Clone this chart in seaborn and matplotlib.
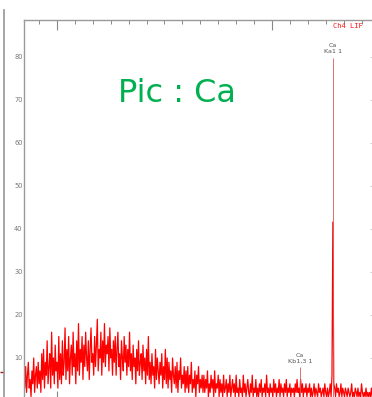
import numpy as np
import pandas as pd
import matplotlib
matplotlib.use("Agg")
import matplotlib.pyplot as plt
import seaborn as sns

# Spectrum counts, one value per channel step of 0.05 starting at 0.2
start = 0.2
step = 0.05
counts = [
    3, 8, 2, 6, 9, 3, 5, 1, 7, 4, 10, 2, 6, 8, 3, 9, 4, 7, 2, 11,
    5, 12, 3, 9, 6, 14, 4, 8, 11, 3, 16, 6, 10, 4, 13, 7, 9, 3, 15, 5,
    11, 4, 14, 6, 9, 17, 5, 12, 7, 15, 4, 10, 13, 6, 16, 8, 11, 4, 14, 7,
    18, 6, 12, 9, 15, 5, 13, 8, 16, 10, 7, 14, 5, 12, 17, 9, 11, 6, 15, 8,
    13, 19, 7, 12, 10, 16, 6, 14, 9, 18, 8, 13, 11, 15, 7, 17, 10, 12, 6, 14,
    9, 15, 6, 12, 16, 8, 11, 5, 14, 10, 7, 15, 9, 13, 6, 12, 8, 16, 7, 11,
    5, 13, 8, 10, 4, 12, 7, 14, 6, 9, 11, 5, 13, 7, 10, 4, 12, 6, 15, 5,
    9, 4, 11, 6, 8, 3, 12, 5, 10, 7, 4, 9, 6, 11, 3, 8, 5, 12, 4, 10,
    3, 9, 5, 7, 2, 10, 6, 4, 8, 3, 9, 2, 7, 5, 10, 3, 6, 4, 8, 2,
    7, 3, 8, 2, 6, 4, 9, 2, 5, 3, 7, 1, 6, 4, 8, 2, 5, 3, 6, 2,
    6, 2, 5, 3, 7, 1, 4, 2, 6, 3, 5, 1, 7, 2, 4, 3, 6, 1, 5, 2,
    4, 1, 6, 2, 3, 5, 1, 4, 2, 6, 1, 3, 5, 2, 4, 1, 6, 2, 3, 1,
    5, 2, 3, 1, 6, 2, 4, 1, 3, 5, 2, 1, 4, 2, 6, 1, 3, 2, 5, 1,
    3, 1, 4, 2, 5, 1, 3, 2, 4, 1, 6, 2, 3, 1, 4, 2, 3, 1, 5, 2,
    4, 1, 3, 2, 5, 1, 4, 2, 3, 1, 4, 2, 5, 1, 3, 2, 4, 1, 3, 2,
    3, 1, 4, 2, 5, 2, 3, 1, 5, 2, 4, 1, 3, 2, 4, 1, 3, 2, 4, 1,
    3, 1, 2, 4, 1, 3, 2, 1, 4, 2, 3, 1, 2, 3, 1, 4, 2, 1, 3, 1,
    2, 4, 1, 6, 41.6, 4, 3, 1, 4, 2, 3, 1, 2, 4, 1, 3, 2, 1, 3, 2,
    1, 3, 2, 1, 2, 4, 1, 2, 1, 3, 2, 1, 3, 1, 2, 1, 4, 2, 1, 2,
    1, 3, 1, 2, 1, 2, 1, 3, 1,
]

# Identified lines: position, marker height, label
line_pos = [17.40, 15.56]
line_top = [79.8, 7.9]
line_labels = ["Ca\nKa1 1", "Ca\nKb1,3 1"]

y_major = [10, 20, 30, 40, 50, 60, 70, 80]

positions = [round(start + i * step, 3) for i in range(len(counts))]
df = pd.DataFrame({"pos": positions, "counts": counts})

sns.set_theme(style="white")
plt.rcParams["font.family"] = ["DejaVu Sans"]

W, H = 372, 397
fig = plt.figure(figsize=(W / 100, H / 100), dpi=100)
fig.patch.set_facecolor("white")

# Main spectrum axes
ax = fig.add_axes([24 / W, -4 / H, 349 / W, 381 / H])
sns.lineplot(data=df, x="pos", y="counts", ax=ax, color="#ff0000",
             linewidth=0.9, estimator=None, sort=True)
ax.set_xlim(0.158, 19.64)
ax.set_ylim(0, 88.6)
ax.set_xlabel("")
ax.set_ylabel("")

# Peak marker lines and labels
for p, t, lab in zip(line_pos, line_top, line_labels):
    ax.vlines(p, 0, t, color="#d85a5a", linewidth=0.6)
    ax.text(p, t + 0.8, lab, ha="center", va="bottom", fontsize=4.6,
            color="#555555", linespacing=1.25)

ax.text(17.38, 87.3, "Ch4 LIF", ha="left", va="center", fontsize=5,
        color="#ff1010", family="DejaVu Sans Mono")

ax.text(8.7, 71.5, "Pic : Ca", ha="center", va="center", fontsize=23,
        color="#00b050", family="DejaVu Sans")

# Spines and ticks
for side in ["left", "top", "bottom"]:
    ax.spines[side].set_color("#9a9a9a")
    ax.spines[side].set_linewidth(1.0)
ax.spines["right"].set_visible(False)

ax.set_yticks(y_major)
ax.set_yticks([5, 15, 25, 35, 45, 55, 65, 75, 85], minor=True)
ax.set_yticklabels([str(v) for v in y_major])
ax.set_xticks([2, 14])
ax.set_xticks(np.arange(1, 20, 1), minor=True)
ax.tick_params(axis="y", which="major", direction="in", length=8, width=0.8,
               color="#777777", labelsize=4.8, labelcolor="#777777", pad=1,
               right=False)
ax.tick_params(axis="y", which="minor", direction="in", length=3, width=0.7,
               color="#888888", right=False)
ax.tick_params(axis="x", which="major", direction="in", length=7, width=0.8,
               color="#888888", top=True, bottom=True, labelbottom=False)
ax.tick_params(axis="x", which="minor", direction="in", length=3, width=0.7,
               color="#888888", top=True, bottom=False)

# Short light ticks on the right edge
ax_r = ax.secondary_yaxis("right")
ax_r.set_yticks(y_major)
ax_r.set_yticklabels([])
ax_r.spines["right"].set_visible(False)
ax_r.tick_params(axis="y", direction="in", length=2.5, width=0.6,
                 color="#c4c4c4")

# Neighbouring panel edge on the far left
ax2 = fig.add_axes([4 / W, -4 / H, 1 / W, 391 / H])
ax2.set_facecolor("none")
for side in ["right", "top", "bottom"]:
    ax2.spines[side].set_visible(False)
ax2.spines["left"].set_color("#9a9a9a")
ax2.set_ylim(0, 391)
ax2.set_xticks([])
ax2.set_yticks(np.arange(4, 391, 10))
ax2.set_yticklabels([])
ax2.tick_params(axis="y", direction="out", length=4, width=0.7, color="#8a8a8a")
ax2.hlines(29, -4, 0, color="#9b1b1b", linewidth=1.0, clip_on=False,
           transform=ax2.get_yaxis_transform())

fig.savefig("out.png", dpi=100, facecolor="white")
